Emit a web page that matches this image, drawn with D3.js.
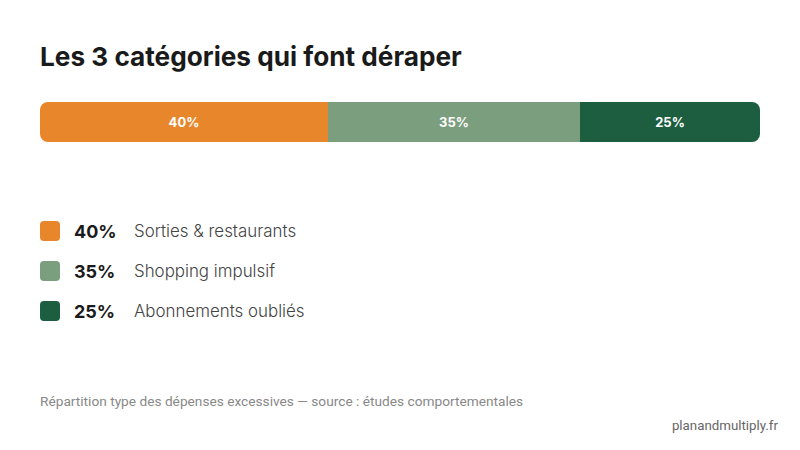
<!DOCTYPE html>
<html><head><meta charset="utf-8">
<script src="https://cdn.jsdelivr.net/npm/d3@7"></script>
<style>body{margin:0;background:#fff}svg{display:block}</style>
</head><body>
<svg id="c" width="800" height="450"></svg>
<script>
const categories = ["Sorties & restaurants","Shopping impulsif","Abonnements oubliés"];
const values = [40,35,25];
const colors = ["#E8862B","#7A9E7E","#1C5E3F"];
const title = "Les 3 catégories qui font déraper";
const note = "Répartition type des dépenses excessives — source : études comportementales";
const brand = "planandmultiply.fr";

const svg = d3.select("#c");
const font = "Inter, 'DejaVu Sans', sans-serif";

svg.append("text").attr("x",40).attr("y",66).attr("font-family",font)
  .attr("font-size",26.2).attr("font-weight",700).attr("fill","#1a1a1a").text(title);

const x = d3.scaleLinear().domain([0,d3.sum(values)]).range([40,760]);
const stacked = [];
let acc = 0;
values.forEach((v,i)=>{stacked.push({v,i,x0:acc,x1:acc+v});acc+=v;});

const barY = 102, barH = 40;
const clip = svg.append("defs").append("clipPath").attr("id","bc");
clip.append("rect").attr("x",x(0)).attr("y",barY).attr("width",x(acc)-x(0)).attr("height",barH).attr("rx",8);
const g = svg.append("g").attr("clip-path","url(#bc)");
g.selectAll("rect").data(stacked).join("rect")
  .attr("x",d=>x(d.x0)).attr("y",barY).attr("width",d=>x(d.x1)-x(d.x0)).attr("height",barH)
  .attr("fill",d=>colors[d.i]);
svg.selectAll("text.seg").data(stacked).join("text").attr("class","seg")
  .attr("x",d=>(x(d.x0)+x(d.x1))/2).attr("y",barY+barH/2+4.5).attr("text-anchor","middle")
  .attr("font-family",font).attr("font-size",13).attr("font-weight",700).attr("fill","#fff")
  .text(d=>d.v+"%");

const leg = svg.selectAll("g.leg").data(stacked).join("g").attr("class","leg")
  .attr("transform",(d,i)=>`translate(40,${221+i*40})`);
leg.append("rect").attr("width",20).attr("height",20).attr("rx",4).attr("fill",d=>colors[d.i]);
leg.append("text").attr("x",34).attr("y",16.5).attr("font-family",font).attr("font-size",18)
  .attr("font-weight",700).attr("fill","#1a1a1a").text(d=>d.v+"%");
leg.append("text").attr("x",94).attr("y",16).attr("font-family",font).attr("font-size",16.9)
  .attr("font-weight",300).attr("fill","#444").text(d=>categories[d.i]);

svg.append("text").attr("x",40).attr("y",406).attr("font-family","Roboto, sans-serif")
  .attr("font-size",13.7).attr("fill","#888").text(note);
svg.append("text").attr("x",778).attr("y",430).attr("text-anchor","end").attr("font-family","Roboto, sans-serif")
  .attr("font-size",13.3).attr("fill","#666").text(brand);
</script>
</body></html>
